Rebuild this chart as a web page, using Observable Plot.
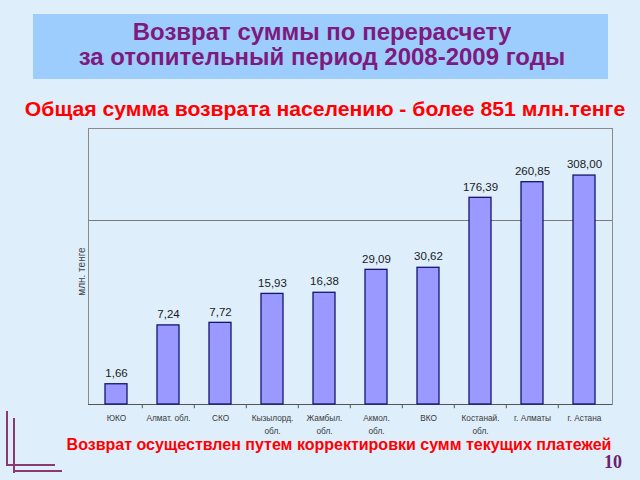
<!DOCTYPE html>
<html><head><meta charset="utf-8">
<script src="https://cdn.jsdelivr.net/npm/d3@7"></script>
<script src="https://cdn.jsdelivr.net/npm/@observablehq/plot@0.6"></script>
<style>
body{margin:0;background:#deeefb;width:640px;height:480px;overflow:hidden;position:relative;font-family:"Liberation Sans",Arial,sans-serif}
#tbox{position:absolute;left:33px;top:14px;width:575px;height:65px;background:#9dcdfd}
.t{position:absolute;left:0;width:640px;text-align:center;font-weight:bold;white-space:nowrap}
#title{top:20px;left:33px;width:578px;color:#7d1a7d;font-size:23.5px;line-height:25px;transform:scaleX(1.02)}
#sub{top:98px;left:5px;color:#ff0000;font-size:19.5px;transform:scaleX(1.087)}
#foot{top:436px;left:19px;color:#ff0000;font-size:16px}
#num{position:absolute;left:604px;top:452px;font-family:"Liberation Serif",serif;font-weight:bold;font-size:18px;color:#6e1e6e}
#chart{position:absolute;left:0;top:0}
.dl{position:absolute;background:#8a3a6e}
</style></head>
<body>
<div id="tbox"></div>
<div class="t" id="title">Возврат суммы по перерасчету<br>за отопительный период 2008-2009 годы</div>
<div class="t" id="sub">Общая сумма возврата населению - более 851 млн.тенге</div>
<div id="chart"></div>
<div class="t" id="foot">Возврат осуществлен путем корректировки сумм текущих платежей</div>
<div id="num">10</div>
<div class="dl" style="left:6px;top:411px;width:2px;height:55px"></div>
<div class="dl" style="left:6px;top:464px;width:49px;height:2px"></div>
<div class="dl" style="left:13px;top:418px;width:2px;height:55px"></div>
<div class="dl" style="left:13px;top:470px;width:49px;height:2px"></div>
<script>
const categories = ["ЮКО","Алмат. обл.","СКО","Кызылорд.\nобл.","Жамбыл.\nобл.","Акмол.\nобл.","ВКО","Костанай.\nобл.","г. Алматы","г. Астана"];
const values = [1.66, 7.24, 7.72, 15.93, 16.38, 29.09, 30.62, 176.39, 260.85, 308.00];
const valueLabels = ["1,66","7,24","7,72","15,93","16,38","29,09","30,62","176,39","260,85","308,00"];
const yDomain = [1, 1000];
const gridValues = [100];
const yLabel = "млн. тенге";

const data = categories.map((c, i) => ({cat: c, v: values[i], lab: valueLabels[i]}));
const W = 640, H = 480, mL = 88, mR = 28, mT = 128, mB = 76;
const step = (W - mL - mR) / categories.length;

const chart = Plot.plot({
  width: W, height: H,
  marginLeft: mL, marginRight: mR, marginTop: mT, marginBottom: mB,
  style: {background: "transparent", fontFamily: "Liberation Sans, Arial, sans-serif"},
  x: {domain: categories, paddingInner: 0.57, paddingOuter: 0.285, label: null},
  y: {type: "log", domain: yDomain, axis: null},
  marks: [
    Plot.frame({stroke: "#8a8a8a"}),
    Plot.ruleY(gridValues, {stroke: "#7a7a7a"}),
    Plot.ruleY([yDomain[0]], {stroke: "#555"}),
    Plot.ruleX(categories.slice(1), {x: d => d, y1: 1, y2: 0.9, dx: -step / 2, stroke: "#555"}),
    Plot.barY(data, {x: "cat", y1: yDomain[0], y2: "v", fill: "#9999ff", stroke: "#14146e", strokeWidth: 1.3}),
    Plot.text(data, {x: "cat", y: "v", text: "lab", dy: -11, fontSize: 11.5, fill: "#1a1a1a"}),
    Plot.axisX({tickSize: 0, tickPadding: 7, fontSize: 8.3, fill: "#3a3a3a", lineHeight: 1.6, textAnchor: "middle"}),
    Plot.text([yLabel], {frameAnchor: "left", textAnchor: "middle", rotate: -90, dx: -7, dy: 5, fontSize: 10, fill: "#444"})
  ]
});
document.getElementById("chart").appendChild(chart);
</script>
</body></html>
